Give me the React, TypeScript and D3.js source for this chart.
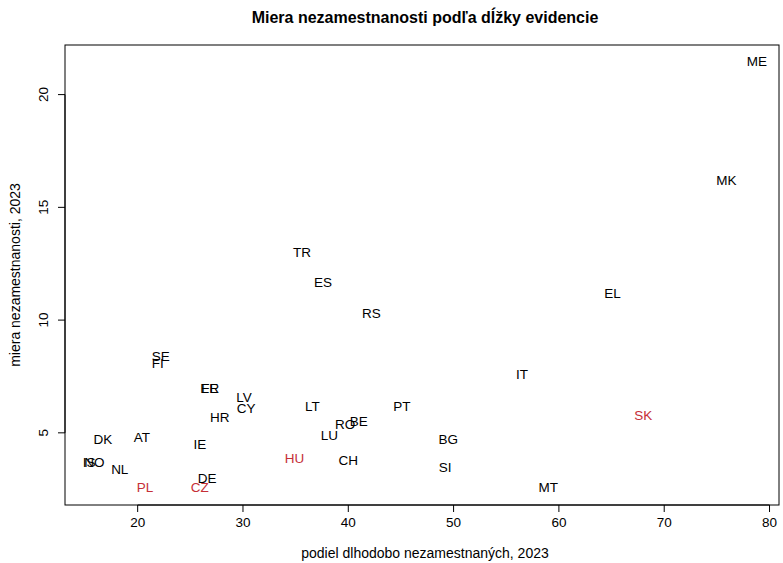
import * as d3 from "d3";
import { useEffect, useRef } from "react";

// krajiny, podiel dlhodobo nezamestnaných a miera nezamestnanosti (2023)
const countries = ["ME", "MK", "TR", "ES", "EL", "RS", "SE", "FI", "EE", "FR", "IT", "LV", "CY", "HR", "LT", "PT", "SK", "RO", "BE", "LU", "BG", "DK", "AT", "IE", "HU", "CH", "SI", "IS", "NO", "NL", "DE", "PL", "CZ", "MT"];
const longTermShare = [78.8, 75.9, 35.6, 37.6, 65.1, 42.2, 22.2, 21.9, 26.8, 26.9, 56.5, 30.1, 30.3, 27.8, 36.6, 45.1, 68.0, 39.7, 41.0, 38.2, 49.5, 16.7, 20.4, 25.9, 34.9, 40.0, 49.2, 15.4, 15.9, 18.3, 26.6, 20.7, 25.9, 59.0];
const unemployment = [21.5, 16.2, 13.0, 11.7, 11.2, 10.3, 8.4, 8.1, 7.0, 7.0, 7.6, 6.6, 6.1, 5.7, 6.2, 6.2, 5.8, 5.4, 5.5, 4.9, 4.7, 4.7, 4.8, 4.5, 3.9, 3.8, 3.5, 3.7, 3.7, 3.4, 3.0, 2.6, 2.6, 2.6];
const highlighted = ["SK", "HU", "PL", "CZ"];

const xTicks = [20, 30, 40, 50, 60, 70, 80];
const yTicks = [5, 10, 15, 20];

const W = 783, H = 563;
const left = 65, right = 779, top = 45, bottom = 505;
const font = "'Liberation Sans', Arial, sans-serif";
const red = "#c62f37";

const App = () => {
  const ref = useRef<SVGSVGElement | null>(null);

  useEffect(() => {
    const svg = d3.select(ref.current);
    svg.selectAll("*").remove();

    const x = d3.scaleLinear().domain([13.1, 80.9]).range([left, right]);
    const y = d3.scaleLinear().domain([1.8, 22.2]).range([bottom, top]);

    svg.append("rect")
      .attr("x", left).attr("y", top)
      .attr("width", right - left).attr("height", bottom - top)
      .attr("fill", "none").attr("stroke", "#000").attr("stroke-width", 1);

    // x os
    const gx = svg.append("g").attr("transform", `translate(0,${bottom})`);
    gx.append("line")
      .attr("x1", x(20)).attr("x2", x(80))
      .attr("stroke", "#000");
    gx.selectAll("line.t").data(xTicks).enter().append("line")
      .attr("class", "t")
      .attr("x1", (d) => x(d)).attr("x2", (d) => x(d))
      .attr("y1", 0).attr("y2", 7)
      .attr("stroke", "#000");
    gx.selectAll("text").data(xTicks).enter().append("text")
      .attr("x", (d) => x(d)).attr("y", 22)
      .attr("text-anchor", "middle")
      .attr("font-family", font).attr("font-size", 13.5)
      .text((d) => d);

    // y os
    const gy = svg.append("g").attr("transform", `translate(${left},0)`);
    gy.append("line")
      .attr("y1", y(5)).attr("y2", y(20))
      .attr("stroke", "#000");
    gy.selectAll("line.t").data(yTicks).enter().append("line")
      .attr("class", "t")
      .attr("y1", (d) => y(d)).attr("y2", (d) => y(d))
      .attr("x1", 0).attr("x2", -7)
      .attr("stroke", "#000");
    gy.selectAll("text").data(yTicks).enter().append("text")
      .attr("transform", (d) => `translate(-17,${y(d)}) rotate(-90)`)
      .attr("text-anchor", "middle")
      .attr("font-family", font).attr("font-size", 13.5)
      .text((d) => d);

    // popisky bodov
    svg.append("g").selectAll("text").data(countries).enter().append("text")
      .attr("x", (_, i) => x(longTermShare[i]))
      .attr("y", (_, i) => y(unemployment[i]))
      .attr("dy", "0.36em")
      .attr("text-anchor", "middle")
      .attr("font-family", font).attr("font-size", 13.5)
      .attr("fill", (d) => (highlighted.includes(d) ? red : "#000"))
      .text((d) => d);

    svg.append("text")
      .attr("x", 425).attr("y", 23)
      .attr("text-anchor", "middle")
      .attr("font-family", font).attr("font-size", 16).attr("font-weight", "bold")
      .text("Miera nezamestnanosti podľa dĺžky evidencie");

    svg.append("text")
      .attr("x", 425).attr("y", 558)
      .attr("text-anchor", "middle")
      .attr("font-family", font).attr("font-size", 14)
      .text("podiel dlhodobo nezamestnaných, 2023");

    svg.append("text")
      .attr("transform", `translate(20,${(top + bottom) / 2}) rotate(-90)`)
      .attr("text-anchor", "middle")
      .attr("font-family", font).attr("font-size", 14)
      .text("miera nezamestnanosti, 2023");
  }, []);

  return (
    <svg ref={ref} width={W} height={H}
      style={{ position: "absolute", left: 0, top: 0, background: "#fff" }} />
  );
};

export default App;
